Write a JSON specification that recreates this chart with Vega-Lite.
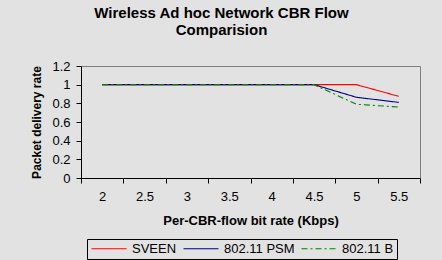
{
  "$schema": "https://vega.github.io/schema/vega-lite/v6.json",
  "autosize": {"type": "none"},
  "width": 339,
  "height": 112,
  "padding": {"left": 81, "top": 66, "right": 22, "bottom": 82},
  "background": "#e2e2e2",
  "title": {
    "text": ["Wireless Ad hoc Network CBR Flow", "Comparision"],
    "font": "Liberation Sans",
    "fontSize": 15,
    "fontWeight": "bold",
    "color": "#000000",
    "anchor": "middle",
    "frame": "group",
    "dx": -29,
    "offset": 22,
    "lineHeight": 17
  },
  "data": {
    "values": [
      {"rate": "2", "series": "SVEEN", "pdr": 1},
      {"rate": "2.5", "series": "SVEEN", "pdr": 1},
      {"rate": "3", "series": "SVEEN", "pdr": 1},
      {"rate": "3.5", "series": "SVEEN", "pdr": 1},
      {"rate": "4", "series": "SVEEN", "pdr": 1},
      {"rate": "4.5", "series": "SVEEN", "pdr": 1},
      {"rate": "5", "series": "SVEEN", "pdr": 1},
      {"rate": "5.5", "series": "SVEEN", "pdr": 0.875},
      {"rate": "2", "series": "802.11 PSM", "pdr": 1},
      {"rate": "2.5", "series": "802.11 PSM", "pdr": 1},
      {"rate": "3", "series": "802.11 PSM", "pdr": 1},
      {"rate": "3.5", "series": "802.11 PSM", "pdr": 1},
      {"rate": "4", "series": "802.11 PSM", "pdr": 1},
      {"rate": "4.5", "series": "802.11 PSM", "pdr": 1},
      {"rate": "5", "series": "802.11 PSM", "pdr": 0.865},
      {"rate": "5.5", "series": "802.11 PSM", "pdr": 0.81},
      {"rate": "2", "series": "802.11 B", "pdr": 1},
      {"rate": "2.5", "series": "802.11 B", "pdr": 1},
      {"rate": "3", "series": "802.11 B", "pdr": 1},
      {"rate": "3.5", "series": "802.11 B", "pdr": 1},
      {"rate": "4", "series": "802.11 B", "pdr": 1},
      {"rate": "4.5", "series": "802.11 B", "pdr": 1},
      {"rate": "5", "series": "802.11 B", "pdr": 0.79},
      {"rate": "5.5", "series": "802.11 B", "pdr": 0.76}
    ]
  },
  "mark": {"type": "line", "strokeWidth": 1.1},
  "encoding": {
    "x": {
      "field": "rate",
      "type": "ordinal",
      "sort": ["2", "2.5", "3", "3.5", "4", "4.5", "5", "5.5"],
      "scale": {"type": "band", "paddingInner": 0, "paddingOuter": 0},
      "axis": {
        "title": "Per-CBR-flow bit rate (Kbps)",
        "titleFont": "Liberation Sans",
        "titleFontSize": 13,
        "titleFontWeight": "bold",
        "titleColor": "#000000",
        "titlePadding": 11,
        "labelFont": "Liberation Sans",
        "labelFontSize": 13,
        "labelColor": "#000000",
        "labelAngle": 0,
        "labelPadding": 7,
        "tickBand": "extent",
        "tickSize": 5,
        "tickColor": "#000000",
        "domainColor": "#000000",
        "grid": false
      }
    },
    "y": {
      "field": "pdr",
      "type": "quantitative",
      "scale": {"domain": [0, 1.2], "nice": false},
      "axis": {
        "title": "Packet delivery rate",
        "titleFont": "Liberation Sans",
        "titleFontSize": 12,
        "titleFontWeight": "bold",
        "titleColor": "#000000",
        "titlePadding": 8,
        "labelFont": "Liberation Sans",
        "labelFontSize": 13,
        "labelColor": "#000000",
        "labelPadding": 6,
        "format": "~g",
        "values": [0, 0.2, 0.4, 0.6, 0.8, 1, 1.2],
        "tickSize": 5,
        "tickColor": "#000000",
        "domainColor": "#000000",
        "grid": false
      }
    },
    "color": {
      "field": "series",
      "type": "nominal",
      "sort": ["SVEEN", "802.11 PSM", "802.11 B"],
      "scale": {"domain": ["SVEEN", "802.11 PSM", "802.11 B"], "range": ["#ff0000", "#000080", "#008000"]},
      "legend": {
        "title": null,
        "orient": "none",
        "direction": "horizontal",
        "legendX": 6,
        "legendY": 173,
        "symbolType": "M-1,0H6",
        "symbolSize": 100,
        "symbolStrokeWidth": 1.1,
        "labelFont": "Liberation Sans",
        "labelFontSize": 13,
        "labelColor": "#000000",
        "labelOffset": 29,
        "columnPadding": 4,
        "padding": 3,
        "strokeColor": "#000000",
        "fillColor": "#e2e2e2"
      }
    },
    "strokeDash": {
      "field": "series",
      "type": "nominal",
      "sort": ["SVEEN", "802.11 PSM", "802.11 B"],
      "scale": {"domain": ["SVEEN", "802.11 PSM", "802.11 B"], "range": [[1, 0], [1, 0], [6, 3, 2, 3]]},
      "legend": null
    }
  },
  "config": {
    "view": {"stroke": "#808080", "fill": "#e2e2e2"}
  }
}
